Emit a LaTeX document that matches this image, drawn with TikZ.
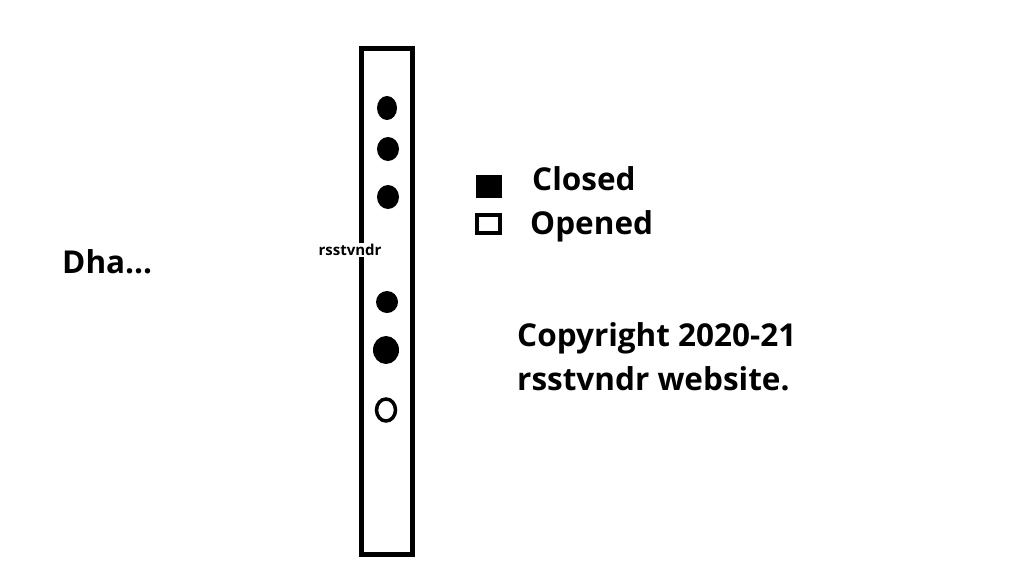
\documentclass[tikz,border=0pt]{standalone}
\usepackage{fontspec}
\setmainfont{Open Sans}
\usepackage{tikz}
\usetikzlibrary{calc}

\begin{document}
\begin{tikzpicture}[x=1pt,y=-1pt,
    bigtext/.style={font=\fontsize{31.5}{44}\selectfont\bfseries,inner sep=0pt,align=left},
    hole/.style={fill=black},
    openhole/.style={draw=black,line width=3.5pt,fill=white}]
  % Constants
  \pgfmathsetmacro\bl{361}
  \pgfmathsetmacro\br{412}
  \pgfmathsetmacro\bt{48}
  \pgfmathsetmacro\bb{554}
  % Boundary
  \path[use as bounding box,fill=white] (0,0) rectangle (1024,576);
  % Bar
  \draw[line width=5pt] (\bl,\bt) rectangle (\br,\bb);
  % Holes
  \fill[hole] (387,108) ellipse (10 and 12);
  \fill[hole] (388,149) ellipse (11 and 12);
  \fill[hole] (388,197) ellipse (11 and 12);
  \fill[hole] (387,302) ellipse (11 and 11);
  \fill[hole] (386,350) ellipse (13 and 14);
  \draw[openhole] (386,410) ellipse (9.5 and 11);
  % Bar label
  \node[fill=white,inner sep=1pt,font=\fontsize{15}{15}\selectfont\bfseries] (barlabel) at (350,250) {rsstvndr};
  % Legend
  \fill (476,175) rectangle (502,198);
  \draw[line width=4pt] (477,215) rectangle (500,233);
  \node[bigtext,anchor=base west] (closed) at (532,190) {Closed};
  \node[bigtext,anchor=base west] (opened) at (530,234) {Opened};
  % Texts
  \node[bigtext,anchor=base west] (dha) at (62,273) {Dha...};
  \node[bigtext,anchor=north west] (copyright) at (517,322) {Copyright 2020-21\\rsstvndr website.};
\end{tikzpicture}
\end{document}
